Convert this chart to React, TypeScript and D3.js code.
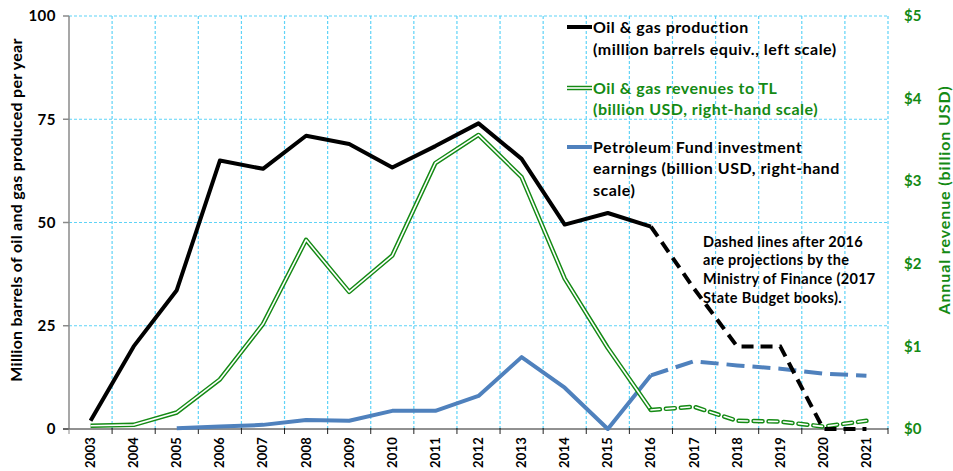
import React from "react";
import * as d3 from "d3";

const years = ["2003","2004","2005","2006","2007","2008","2009","2010","2011","2012","2013","2014","2015","2016","2017","2018","2019","2020","2021"];
const production = [2, 20, 33.6, 65, 63, 71, 69, 63.3, 68.5, 74, 65.4, 49.5, 52.3, 49, 34, 20, 20, 0, 0];
const revenues = [0.04, 0.05, 0.2, 0.6, 1.27, 2.29, 1.66, 2.1, 3.22, 3.56, 3.05, 1.82, 0.98, 0.23, 0.27, 0.1, 0.09, 0.03, 0.1];
const fundYears = ["2005","2006","2007","2008","2009","2010","2011","2012","2013","2014","2015","2016","2017","2018","2019","2020","2021"];
const fundEarnings = [0.01, 0.03, 0.05, 0.11, 0.1, 0.22, 0.22, 0.4, 0.87, 0.5, 0, 0.65, 0.82, 0.77, 0.73, 0.67, 0.645];
const leftTicks = [0, 25, 50, 75, 100];
const rightTicks = [0, 1, 2, 3, 4, 5];
const projectionStart = "2016";

const W = 953, H = 471;
const M = { left: 69, right: 888, top: 16, bottom: 429 };
const FONT = "Lato, 'Open Sans', sans-serif";
const GREEN = "#148a14";
const GRID = "#5fd3f7";

export default function App() {
  const x = d3.scaleBand().domain(years).range([M.left, M.right]).padding(0);
  const cx = (y: string) => (x(y) as number) + x.bandwidth() / 2;
  const yL = d3.scaleLinear().domain([0, 100]).range([M.bottom, M.top]);
  const yR = d3.scaleLinear().domain([0, 5]).range([M.bottom, M.top]);

  const line = d3.line<[number, number]>().x(d => d[0]).y(d => d[1]);
  const split = (ys: string[], vals: number[], scale: (v: number) => number) => {
    const pts: [number, number][] = ys.map((yr, i) => [cx(yr), scale(vals[i])]);
    const k = ys.indexOf(projectionStart);
    return { solid: line(pts.slice(0, k + 1)) || "", dashed: line(pts.slice(k)) || "" };
  };
  const prod = split(years, production, yL);
  const rev = split(years, revenues, yR);
  const fund = split(fundYears, fundEarnings, yR);

  const bounds = years.map(y => x(y) as number).concat([M.right]);

  return (
    <svg width={W} height={H} style={{ position: "absolute", left: 0, top: 0 }} fontFamily={FONT}>
      <rect width={W} height={H} fill="#fff" />
      {/* grid */}
      {leftTicks.filter(t => t > 0).map(t => (
        <line key={"h" + t} x1={M.left} x2={M.right} y1={yL(t)} y2={yL(t)} stroke={GRID} strokeWidth={1.2} strokeDasharray="3,2" />
      ))}
      {bounds.slice(1).map((bx, i) => (
        <line key={"v" + i} x1={bx} x2={bx} y1={M.top} y2={M.bottom} stroke={GRID} strokeWidth={1.2} strokeDasharray="3,2" />
      ))}
      {/* left axis */}
      <line x1={M.left} x2={M.left} y1={M.top} y2={M.bottom} stroke="#8a8a8a" strokeWidth={1.5} />
      {leftTicks.map(t => (
        <g key={"lt" + t}>
          <line x1={M.left - 6} x2={M.left} y1={yL(t)} y2={yL(t)} stroke="#8a8a8a" strokeWidth={1.5} />
          <text x={56} y={yL(t)} dy="0.35em" textAnchor="end" fontSize={15} letterSpacing={0.5} fontWeight="bold" fill="#000">{t}</text>
        </g>
      ))}
      {/* x axis */}
      <line x1={M.left - 6} x2={M.right} y1={M.bottom} y2={M.bottom} stroke="#222" strokeWidth={1} />
      {bounds.map((bx, i) => (
        <line key={"xt" + i} x1={bx} x2={bx} y1={M.bottom - 1} y2={M.bottom + 5} stroke={i === 0 ? "#8a8a8a" : "#222"} strokeWidth={1} />
      ))}
      {years.map(y => (
        <text key={"xl" + y} transform={`translate(${cx(y) + 4.5},${437}) rotate(-90)`} textAnchor="end" fontSize={13} letterSpacing={0.2} fontWeight="bold" fill="#000">{y}</text>
      ))}
      {/* right axis labels */}
      {rightTicks.map(t => (
        <text key={"rt" + t} x={904} y={yR(t)} dy="0.35em" textAnchor="start" fontSize={15} fontWeight="bold" fill={GREEN}>${t}</text>
      ))}
      {/* axis titles */}
      <text transform={`translate(22,${210}) rotate(-90)`} textAnchor="middle" fontSize={16} letterSpacing={0.25} fontWeight="bold" fill="#000">Million barrels of oil and gas produced per year</text>
      <text transform={`translate(944,${200}) rotate(-90)`} textAnchor="middle" dy="0.35em" fontSize={16} letterSpacing={0.9} fontWeight="bold" fill={GREEN}>Annual revenue (billion USD)</text>

      {/* series */}
      <path d={fund.solid} fill="none" stroke="#4f81bd" strokeWidth={4} strokeLinejoin="round" />
      <path d={fund.dashed} fill="none" stroke="#4f81bd" strokeWidth={4} strokeDasharray="18,8" />

      <path d={rev.solid} fill="none" stroke={GREEN} strokeWidth={4.5} strokeLinejoin="round" />
      <path d={rev.solid} fill="none" stroke="#fff" strokeWidth={1.6} strokeLinejoin="round" />
      <path d={rev.dashed} fill="none" stroke={GREEN} strokeWidth={4.5} strokeDasharray="9,6" strokeLinecap="round" />
      <path d={rev.dashed} fill="none" stroke="#fff" strokeWidth={1.6} strokeDasharray="9,6" strokeLinecap="round" />

      <path d={prod.solid} fill="none" stroke="#000" strokeWidth={4} strokeLinejoin="round" />
      <path d={prod.dashed} fill="none" stroke="#000" strokeWidth={4} strokeDasharray="12,7" />

      {/* legend */}
      <g fontSize={16} letterSpacing={0.5} fontWeight="bold">
        <line x1={567} x2={592} y1={27} y2={27} stroke="#000" strokeWidth={4} />
        <text x={593} y={27} dy="0.35em" fill="#000">Oil &amp; gas production</text>
        <text x={593} y={49} dy="0.35em" fill="#000">(million barrels equiv., left scale)</text>
        <line x1={567} x2={592} y1={88} y2={88} stroke={GREEN} strokeWidth={4.5} />
        <line x1={567} x2={592} y1={88} y2={88} stroke="#fff" strokeWidth={1.6} />
        <text x={593} y={88} dy="0.35em" fill={GREEN}>Oil &amp; gas revenues to TL</text>
        <text x={593} y={109} dy="0.35em" fill={GREEN}>(billion USD, right-hand scale)</text>
        <line x1={567} x2={592} y1={147} y2={147} stroke="#4f81bd" strokeWidth={4} />
        <text x={593} y={147} dy="0.35em" fill="#000">Petroleum Fund investment</text>
        <text x={593} y={168} dy="0.35em" fill="#000">earnings (billion USD, right-hand</text>
        <text x={593} y={190} dy="0.35em" fill="#000">scale)</text>
      </g>
      <g fontSize={14.5} letterSpacing={0.3} fontWeight="bold" fill="#000">
        <text x={703} y={242} dy="0.35em">Dashed lines after 2016</text>
        <text x={703} y={260} dy="0.35em">are projections by the</text>
        <text x={703} y={279} dy="0.35em">Ministry of Finance (2017</text>
        <text x={703} y={298} dy="0.35em">State Budget books).</text>
      </g>
    </svg>
  );
}
